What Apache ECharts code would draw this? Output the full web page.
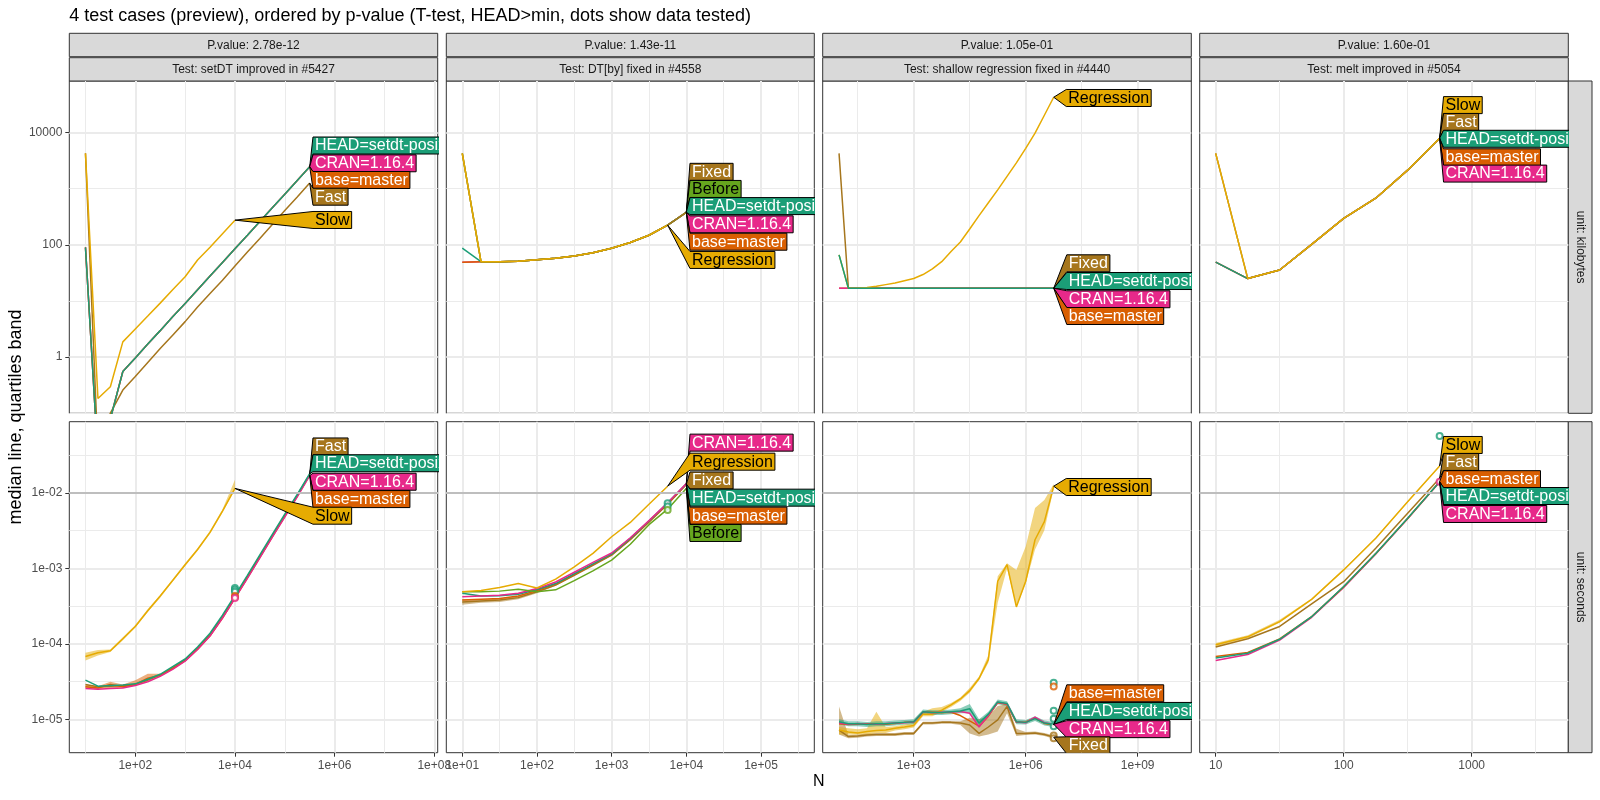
<!DOCTYPE html>
<html><head><meta charset="utf-8">
<script src="https://cdn.jsdelivr.net/npm/echarts@6/dist/echarts.min.js"></script>
<style>html,body{margin:0;padding:0;background:#fff}#c{width:1600px;height:800px}</style>
</head><body><div id="c"></div>
<script>
// ---------------- DATA ----------------
const TITLE = '4 test cases (preview), ordered by p-value (T-test, HEAD>min, dots show data tested)';
const REF_LINE_SECONDS = 0.01;

// Panel 1: setDT improved in #5427
const p1N     = [10, 17.8, 31.6, 56.2, 100, 178, 316, 562, 1000, 1778, 3162, 5623, 10000, 17783, 31623, 56234, 100000, 177828, 316228];
const p1SlowN = [10, 17.8, 31.6, 56.2, 100, 178, 316, 562, 1000, 1778, 3162, 5623, 10000];
const p1kbHEAD = [90, 0.016, 0.079, 0.55, 0.96, 1.7, 2.95, 5.2, 9.0, 15.8, 27.7, 48.5, 85, 148, 261, 457, 800, 1400, 2455];
const p1kbCRAN = [90, 0.016, 0.079, 0.55, 0.96, 1.7, 2.95, 5.2, 9.0, 15.8, 27.7, 48.5, 85, 148, 261, 457, 800, 1400, 2455];
const p1kbBase = [90, 0.016, 0.079, 0.55, 0.96, 1.7, 2.95, 5.2, 9.0, 15.8, 27.7, 48.5, 85, 148, 261, 457, 800, 1400, 2455];
const p1kbFast = [4270, 0.02, 0.1, 0.257, 0.447, 0.794, 1.41, 2.45, 4.27, 7.76, 13.5, 23.4, 41.7, 74.1, 129, 229, 407, 708, 1259];
const p1kbSlow = [4270, 0.182, 0.295, 1.86, 3.16, 5.37, 9.12, 15.8, 26.9, 53.7, 90.2, 158, 275];
const p1sHEAD = [3.3e-5, 2.75e-5, 2.8e-5, 2.85e-5, 2.95e-5, 3.4e-5, 3.95e-5, 5.0e-5, 6.3e-5, 9.1e-5, 1.38e-4, 2.4e-4, 4.4e-4, 8.1e-4, 1.51e-3, 2.82e-3, 5.25e-3, 9.55e-3, 1.8e-2];
const p1sCRAN = [2.55e-5, 2.5e-5, 2.55e-5, 2.6e-5, 2.8e-5, 3.15e-5, 3.7e-5, 4.6e-5, 5.9e-5, 8.4e-5, 1.27e-4, 2.2e-4, 4.0e-4, 7.4e-4, 1.38e-3, 2.6e-3, 4.8e-3, 8.9e-3, 1.7e-2];
const p1sBase = [2.7e-5, 2.6e-5, 2.9e-5, 2.7e-5, 2.9e-5, 3.5e-5, 3.85e-5, 4.7e-5, 6.0e-5, 8.5e-5, 1.28e-4, 2.2e-4, 4.05e-4, 7.5e-4, 1.4e-3, 2.62e-3, 4.9e-3, 9.0e-3, 1.72e-2];
const p1sBaseLo = [2.6e-5, 2.5e-5, 2.6e-5, 2.6e-5, 2.8e-5, 3.2e-5, 3.7e-5, 4.6e-5, 5.9e-5, 8.3e-5, 1.25e-4, 2.15e-4, 3.95e-4, 7.3e-4, 1.37e-3, 2.57e-3, 4.8e-3, 8.8e-3, 1.68e-2];
const p1sBaseHi = [2.9e-5, 2.75e-5, 3.15e-5, 2.9e-5, 3.3e-5, 4.0e-5, 4.0e-5, 4.8e-5, 6.1e-5, 8.7e-5, 1.31e-4, 2.25e-4, 4.15e-4, 7.7e-4, 1.43e-3, 2.67e-3, 5.0e-3, 9.2e-3, 1.76e-2];
const p1sFast = [2.9e-5, 2.7e-5, 2.75e-5, 2.8e-5, 2.9e-5, 3.3e-5, 3.85e-5, 4.8e-5, 6.1e-5, 8.8e-5, 1.33e-4, 2.3e-4, 4.2e-4, 7.8e-4, 1.45e-3, 2.72e-3, 5.05e-3, 9.3e-3, 1.77e-2];
const p1sSlow   = [6.8e-5, 7.6e-5, 8.1e-5, 1.17e-4, 1.7e-4, 2.75e-4, 4.3e-4, 6.9e-4, 1.12e-3, 1.78e-3, 3.0e-3, 5.75e-3, 1.15e-2];
const p1sSlowLo = [6.0e-5, 7.0e-5, 7.8e-5, 1.12e-4, 1.65e-4, 2.65e-4, 4.1e-4, 6.7e-4, 1.08e-3, 1.72e-3, 2.9e-3, 5.5e-3, 1.1e-2];
const p1sSlowHi = [7.6e-5, 8.3e-5, 8.4e-5, 1.22e-4, 1.78e-4, 2.9e-4, 4.45e-4, 7.2e-4, 1.17e-3, 1.85e-3, 3.15e-3, 6.1e-3, 1.5e-2];
const p1DotN = 10000;
const p1sDotsHEAD = [5.5e-4, 5.2e-4, 4.9e-4];
const p1sDotsBase = [4.3e-4, 4.15e-4];
const p1sDotsCRAN = [4.05e-4];

// Panel 2: DT[by] fixed in #4558
const p2N    = [10, 17.8, 31.6, 56.2, 100, 178, 316, 562, 1000, 1778, 3162, 5623, 10000];
const p2RegN = [10, 17.8, 31.6, 56.2, 100, 178, 316, 562, 1000, 1778, 3162, 5623];
const p2kbHEAD   = [87, 50, 50, 51, 54, 57.5, 63, 72, 87, 110, 148, 224, 380];
const p2kbCRAN   = [49, 50, 50, 51, 54, 57.5, 63, 72, 87, 110, 148, 224, 380];
const p2kbBase   = [49, 50, 50, 51, 54, 57.5, 63, 72, 87, 110, 148, 224, 380];
const p2kbFixed  = [4270, 50, 50, 51, 54, 57.5, 63, 72, 87, 110, 148, 224, 380];
const p2kbBefore = [4270, 50, 50, 51, 54, 57.5, 63, 72, 87, 110, 148, 224, 380];
const p2kbReg    = [4270, 50, 50, 51, 54, 57.5, 63, 72, 87, 110, 148, 224];
const p2sHEAD   = [4.7e-4, 4.3e-4, 4.35e-4, 4.55e-4, 5.25e-4, 6.3e-4, 8.5e-4, 1.15e-3, 1.55e-3, 2.5e-3, 4.25e-3, 7.4e-3, 1.32e-2];
const p2sCRAN   = [4.2e-4, 4.3e-4, 4.4e-4, 4.7e-4, 5.4e-4, 6.6e-4, 8.9e-4, 1.2e-3, 1.6e-3, 2.55e-3, 4.3e-3, 7.4e-3, 1.33e-2];
const p2sBase   = [3.8e-4, 3.9e-4, 4.0e-4, 4.3e-4, 5.1e-4, 6.2e-4, 8.3e-4, 1.13e-3, 1.52e-3, 2.45e-3, 4.2e-3, 7.2e-3, 1.3e-2];
const p2sFixed  = [3.6e-4, 3.7e-4, 3.8e-4, 4.1e-4, 4.9e-4, 6.0e-4, 8.1e-4, 1.1e-3, 1.5e-3, 2.4e-3, 4.1e-3, 7.1e-3, 1.3e-2];
const p2sFixedLo = [3.3e-4, 3.5e-4, 3.6e-4, 3.9e-4, 4.7e-4, 5.9e-4, 8.0e-4, 1.09e-3, 1.48e-3, 2.37e-3, 4.05e-3, 7.0e-3, 1.28e-2];
const p2sFixedHi = [3.9e-4, 3.9e-4, 4.0e-4, 4.3e-4, 5.1e-4, 6.1e-4, 8.2e-4, 1.11e-3, 1.52e-3, 2.43e-3, 4.15e-3, 7.2e-3, 1.32e-2];
const p2sBefore = [4.9e-4, 4.9e-4, 5.0e-4, 5.3e-4, 4.9e-4, 5.2e-4, 6.9e-4, 9.3e-4, 1.29e-3, 2.09e-3, 3.8e-3, 6.1e-3, 1.15e-2];
const p2sReg    = [4.9e-4, 5.1e-4, 5.6e-4, 6.3e-4, 5.5e-4, 7.2e-4, 1.05e-3, 1.58e-3, 2.63e-3, 4.07e-3, 7.08e-3, 1.23e-2];
const p2DotN = 5623;
const p2sDotsHEAD = [7.3e-3, 6.6e-3];
const p2sDotsBefore = [5.96e-3];

// Panel 3: shallow regression fixed in #4440
const p3N = [10, 17.8, 31.6, 56.2, 100, 178, 316, 562, 1000, 1778, 3162, 5623, 10000, 17783, 31623, 56234, 100000, 177828, 316228, 562341, 1000000, 1778279, 3162278, 5623413];
const p3kbHEAD  = [66, 16.8, 16.8, 16.8, 16.8, 16.8, 16.8, 16.8, 16.8, 16.8, 16.8, 16.8, 16.8, 16.8, 16.8, 16.8, 16.8, 16.8, 16.8, 16.8, 16.8, 16.8, 16.8, 16.8];
const p3kbCRAN  = [16.8, 16.8, 16.8, 16.8, 16.8, 16.8, 16.8, 16.8, 16.8, 16.8, 16.8, 16.8, 16.8, 16.8, 16.8, 16.8, 16.8, 16.8, 16.8, 16.8, 16.8, 16.8, 16.8, 16.8];
const p3kbBase  = [16.8, 16.8, 16.8, 16.8, 16.8, 16.8, 16.8, 16.8, 16.8, 16.8, 16.8, 16.8, 16.8, 16.8, 16.8, 16.8, 16.8, 16.8, 16.8, 16.8, 16.8, 16.8, 16.8, 16.8];
const p3kbFixed = [4270, 16.8, 16.8, 16.8, 16.8, 16.8, 16.8, 16.8, 16.8, 16.8, 16.8, 16.8, 16.8, 16.8, 16.8, 16.8, 16.8, 16.8, 16.8, 16.8, 16.8, 16.8, 16.8, 16.8];
const p3kbReg   = [66, 16.8, 16.8, 17.4, 18.2, 19.5, 20.9, 22.9, 25.1, 29.5, 37.2, 50, 75.9, 112, 191, 331, 562, 955, 1660, 2880, 5250, 9770, 20400, 42700];
const p3sHEAD   = [9.3e-6, 8.7e-6, 8.7e-6, 8.5e-6, 8.7e-6, 8.7e-6, 8.9e-6, 9.1e-6, 9.3e-6, 1.26e-5, 1.23e-5, 1.23e-5, 1.26e-5, 1.29e-5, 1.38e-5, 8.9e-6, 1.17e-5, 1.7e-5, 1.62e-5, 9.3e-6, 9.1e-6, 1.02e-5, 8.9e-6, 8.5e-6];
const p3sHEADLo = [8.6e-6, 8.1e-6, 8.1e-6, 7.9e-6, 8.1e-6, 8.1e-6, 8.3e-6, 8.5e-6, 8.6e-6, 1.17e-5, 1.14e-5, 1.14e-5, 1.17e-5, 1.2e-5, 1.2e-5, 8.3e-6, 1.08e-5, 1.58e-5, 1.5e-5, 8.6e-6, 8.5e-6, 9.5e-6, 8.3e-6, 7.9e-6];
const p3sHEADHi = [1.0e-5, 9.4e-6, 9.4e-6, 9.2e-6, 9.4e-6, 9.4e-6, 9.6e-6, 9.8e-6, 1.0e-5, 1.35e-5, 1.32e-5, 1.32e-5, 1.35e-5, 1.4e-5, 1.6e-5, 1.0e-5, 1.26e-5, 1.83e-5, 1.74e-5, 1.0e-5, 9.8e-6, 1.1e-5, 9.6e-6, 9.2e-6];
const p3sCRAN  = [8.9e-6, 8.6e-6, 8.8e-6, 8.6e-6, 8.6e-6, 8.8e-6, 8.9e-6, 9.0e-6, 9.2e-6, 1.25e-5, 1.22e-5, 1.24e-5, 1.25e-5, 1.27e-5, 1.2e-5, 7.9e-6, 1.12e-5, 1.68e-5, 1.6e-5, 9.2e-6, 9.0e-6, 1.07e-5, 9.0e-6, 8.6e-6];
const p3sBase  = [8.7e-6, 8.5e-6, 8.6e-6, 8.7e-6, 8.7e-6, 8.6e-6, 8.8e-6, 9.1e-6, 9.2e-6, 1.24e-5, 1.24e-5, 1.22e-5, 1.24e-5, 1.12e-5, 9.5e-6, 8.1e-6, 1.1e-5, 1.66e-5, 1.58e-5, 9.1e-6, 9.2e-6, 1.04e-5, 8.8e-6, 8.4e-6];
const p3sFixed   = [7.2e-6, 5.9e-6, 6.0e-6, 6.2e-6, 6.3e-6, 6.3e-6, 6.3e-6, 6.5e-6, 6.5e-6, 8.9e-6, 8.9e-6, 9.1e-6, 9.1e-6, 8.9e-6, 8.4e-6, 6.5e-6, 7.9e-6, 9.8e-6, 1.48e-5, 6.5e-6, 6.5e-6, 6.6e-6, 6.3e-6, 5.8e-6];
const p3sFixedLo = [6.3e-6, 5.6e-6, 5.7e-6, 5.9e-6, 6.0e-6, 6.0e-6, 6.0e-6, 6.2e-6, 6.2e-6, 8.5e-6, 8.5e-6, 8.7e-6, 8.7e-6, 8.4e-6, 6.5e-6, 5.9e-6, 6.3e-6, 6.9e-6, 1.2e-5, 6.0e-6, 6.2e-6, 6.3e-6, 6.0e-6, 5.5e-6];
const p3sFixedHi = [1.48e-5, 6.2e-6, 6.3e-6, 6.5e-6, 6.6e-6, 6.6e-6, 6.6e-6, 6.8e-6, 6.8e-6, 9.3e-6, 9.3e-6, 9.5e-6, 9.5e-6, 9.4e-6, 1.05e-5, 1.0e-5, 1.1e-5, 1.5e-5, 1.6e-5, 7.5e-6, 6.8e-6, 6.9e-6, 6.6e-6, 6.1e-6];
const p3sReg   = [7.2e-6, 6.8e-6, 6.6e-6, 6.9e-6, 7.1e-6, 7.2e-6, 7.6e-6, 7.9e-6, 8.3e-6, 1.17e-5, 1.17e-5, 1.32e-5, 1.55e-5, 1.86e-5, 2.4e-5, 3.47e-5, 6.17e-5, 6.76e-4, 1.12e-3, 3.09e-4, 6.76e-4, 2.4e-3, 4.17e-3, 1.23e-2];
const p3sRegLo = [6.3e-6, 6.3e-6, 6.3e-6, 6.3e-6, 6.6e-6, 6.6e-6, 7.1e-6, 7.4e-6, 7.8e-6, 1.1e-5, 1.1e-5, 1.25e-5, 1.45e-5, 1.75e-5, 2.25e-5, 3.3e-5, 5.6e-5, 3.5e-4, 1.0e-3, 3.09e-4, 6.3e-4, 1.78e-3, 3.2e-3, 1.15e-2];
const p3sRegHi = [7.9e-6, 7.6e-6, 7.4e-6, 7.6e-6, 1.26e-5, 7.9e-6, 8.1e-6, 8.5e-6, 8.9e-6, 1.26e-5, 1.4e-5, 1.45e-5, 1.65e-5, 1.95e-5, 2.6e-5, 3.7e-5, 7.1e-5, 7.9e-4, 1.17e-3, 9.5e-4, 1.95e-3, 6.3e-3, 8.1e-3, 1.32e-2];
const p3DotN = 5623413;
const p3sDotsHEAD = [3.06e-5, 1.3e-5, 1.02e-5, 8.1e-6];
const p3sDotsBase = [2.71e-5];
const p3sDotsFixed = [6.1e-6, 5.6e-6];

// Panel 4: melt improved in #5054
const p4N = [10, 17.8, 31.6, 56.2, 100, 178, 316, 562];
const p4kbHEAD = [49, 25, 35.5, 102, 295, 676, 2140, 7940];
const p4kbCRAN = [49, 25, 35.5, 102, 295, 676, 2140, 7940];
const p4kbBase = [49, 25, 35.5, 102, 295, 676, 2140, 7940];
const p4kbFast = [4270, 25, 35.5, 102, 295, 676, 2140, 7940];
const p4kbSlow = [4270, 25, 35.5, 102, 295, 676, 2140, 7940];
const p4sSlow   = [9.7e-5, 1.24e-4, 1.97e-4, 3.89e-4, 9.55e-4, 2.51e-3, 7.67e-3, 2.28e-2];
const p4sSlowLo = [9.2e-5, 1.19e-4, 1.9e-4, 3.8e-4, 9.3e-4, 2.45e-3, 7.5e-3, 2.25e-2];
const p4sSlowHi = [1.03e-4, 1.3e-4, 2.08e-4, 4.0e-4, 9.8e-4, 2.57e-3, 7.85e-3, 2.32e-2];
const p4sFast = [9.1e-5, 1.17e-4, 1.7e-4, 3.39e-4, 6.67e-4, 1.85e-3, 5.37e-3, 1.57e-2];
const p4sHEAD = [6.5e-5, 7.5e-5, 1.15e-4, 2.29e-4, 5.75e-4, 1.58e-3, 4.62e-3, 1.41e-2];
const p4sCRAN = [6.0e-5, 7.2e-5, 1.12e-4, 2.25e-4, 5.6e-4, 1.55e-3, 4.55e-3, 1.4e-2];
const p4sBase = [6.8e-5, 7.7e-5, 1.16e-4, 2.3e-4, 5.7e-4, 1.57e-3, 4.6e-3, 1.41e-2];
const p4DotN = 562;
const p4sDotsHEAD = [5.7e-2];
const p4sDotsCRAN = [1.41e-2];

// Tick positions (log10 exponents of the values shown)
const xMajor = [[2, 4, 6, 8], [1, 2, 3, 4, 5], [3, 6, 9], [1, 2, 3]];
const xMinor = [[1, 3, 5, 7], [1.5, 2.5, 3.5, 4.5, 5.5], [1.5, 4.5, 7.5], [1.5, 2.5, 3.5]];
const yMajor = [[0, 2, 4], [-5, -4, -3, -2]];
const yMinor = [[-1, 1, 3], [-4.5, -3.5, -2.5, -1.5]];
const pvals = ['2.78e-12', '1.43e-11', '1.05e-01', '1.60e-01'];
const tests = ['setDT improved in #5427', 'DT[by] fixed in #4558', 'shallow regression fixed in #4440', 'melt improved in #5054'];
const units = ['unit: kilobytes', 'unit: seconds'];

// ------------- label layout (direct labels: box position in data units) -------------
const LBL = {
  p1kb: [['HEAD=setdt-posixlt', 368000, 5890], ['CRAN=1.16.4', 368000, 2840], ['base=master', 368000, 1430], ['Fast', 368000, 720], ['Slow', 368000, 277]],
  p1s:  [['Fast', 368000, 0.0414], ['HEAD=setdt-posixlt', 368000, 0.0248], ['CRAN=1.16.4', 368000, 0.0141], ['base=master', 368000, 0.0083], ['Slow', 368000, 0.0050]],
  p2kb: [['Fixed', 11200, 2000], ['Before', 11200, 990], ['HEAD=setdt-posixlt', 11200, 490], ['CRAN=1.16.4', 11200, 232], ['base=master', 11200, 113.5], ['Regression', 11200, 53.7]],
  p2s:  [['CRAN=1.16.4', 11200, 0.0465], ['Regression', 11200, 0.026], ['Fixed', 11200, 0.01466], ['HEAD=setdt-posixlt', 11200, 0.00867], ['base=master', 11200, 0.00501], ['Before', 11200, 0.00295]],
  p3kb: [['Regression', 1.22e7, 41400], ['Fixed', 1.26e7, 46.8], ['HEAD=setdt-posixlt', 1.26e7, 22.6], ['CRAN=1.16.4', 1.26e7, 10.7], ['base=master', 1.26e7, 5.38]],
  p3s:  [['Regression', 1.22e7, 0.0120], ['base=master', 1.26e7, 2.21e-5], ['HEAD=setdt-posixlt', 1.26e7, 1.29e-5], ['CRAN=1.16.4', 1.26e7, 7.4e-6], ['Fixed', 1.26e7, 4.52e-6]],
  p4kb: [['Slow', 603, 30900], ['Fast', 603, 15500], ['HEAD=setdt-posixlt', 603, 7760], ['base=master', 603, 3630], ['CRAN=1.16.4', 603, 1860]],
  p4s:  [['Slow', 603, 0.0433], ['Fast', 603, 0.0258], ['base=master', 603, 0.01525], ['HEAD=setdt-posixlt', 603, 0.00912], ['CRAN=1.16.4', 603, 0.00527]]
};

// ---------------- styling ----------------
const COLORS = {'HEAD=setdt-posixlt':'#1B9E77','CRAN=1.16.4':'#E7298A','base=master':'#D95F02','Fast':'#A6761D','Slow':'#E6AB02','Fixed':'#A6761D','Before':'#66A61E','Regression':'#E6AB02'};
const TEXTCOL = {'HEAD=setdt-posixlt':'#ffffff','CRAN=1.16.4':'#ffffff','base=master':'#ffffff','Fast':'#ffffff','Slow':'#000000','Fixed':'#ffffff','Before':'#000000','Regression':'#000000'};
const FONT = '"Liberation Sans", Arial, Helvetica, sans-serif';
const colLeft = [69.3, 446.3, 822.7, 1199.7], colW = [368.4, 368, 368.6, 368.6];
const rowTop = [81, 421.7], rowH = [332.3, 331];
const xRange = [[0.6755, 8.069], [0.786, 5.714], [0.562, 10.436], [0.875, 3.755]];
const yRange = [[-1.004, 4.92], [-5.443, -1.055]];

// ---------------- panel assembly ----------------
const PANELS = [
  { kb: { lines: [['CRAN=1.16.4', p1N, p1kbCRAN], ['base=master', p1N, p1kbBase], ['Fast', p1N, p1kbFast], ['HEAD=setdt-posixlt', p1N, p1kbHEAD], ['Slow', p1SlowN, p1kbSlow]], bands: [], dots: [], labels: LBL.p1kb },
    s:  { lines: [['Fast', p1N, p1sFast], ['base=master', p1N, p1sBase], ['CRAN=1.16.4', p1N, p1sCRAN], ['HEAD=setdt-posixlt', p1N, p1sHEAD], ['Slow', p1SlowN, p1sSlow]],
          bands: [['Slow', p1SlowN, p1sSlowLo, p1sSlowHi], ['base=master', p1N, p1sBaseLo, p1sBaseHi]],
          dots: [['HEAD=setdt-posixlt', p1DotN, p1sDotsHEAD], ['base=master', p1DotN, p1sDotsBase], ['CRAN=1.16.4', p1DotN, p1sDotsCRAN]], labels: LBL.p1s } },
  { kb: { lines: [['CRAN=1.16.4', p2N, p2kbCRAN], ['base=master', p2N, p2kbBase], ['HEAD=setdt-posixlt', p2N, p2kbHEAD], ['Before', p2N, p2kbBefore], ['Fixed', p2N, p2kbFixed], ['Regression', p2RegN, p2kbReg]], bands: [], dots: [], labels: LBL.p2kb },
    s:  { lines: [['Fixed', p2N, p2sFixed], ['base=master', p2N, p2sBase], ['HEAD=setdt-posixlt', p2N, p2sHEAD], ['CRAN=1.16.4', p2N, p2sCRAN], ['Before', p2N, p2sBefore], ['Regression', p2RegN, p2sReg]],
          bands: [['Fixed', p2N, p2sFixedLo, p2sFixedHi]], dots: [['HEAD=setdt-posixlt', p2DotN, p2sDotsHEAD], ['Before', p2DotN, p2sDotsBefore]], labels: LBL.p2s } },
  { kb: { lines: [['base=master', p3N, p3kbBase], ['CRAN=1.16.4', p3N, p3kbCRAN], ['Fixed', p3N, p3kbFixed], ['Regression', p3N, p3kbReg], ['HEAD=setdt-posixlt', p3N, p3kbHEAD]], bands: [], dots: [], labels: LBL.p3kb },
    s:  { lines: [['Fixed', p3N, p3sFixed], ['Regression', p3N, p3sReg], ['base=master', p3N, p3sBase], ['CRAN=1.16.4', p3N, p3sCRAN], ['HEAD=setdt-posixlt', p3N, p3sHEAD]],
          bands: [['Fixed', p3N, p3sFixedLo, p3sFixedHi], ['Regression', p3N, p3sRegLo, p3sRegHi], ['HEAD=setdt-posixlt', p3N, p3sHEADLo, p3sHEADHi]],
          dots: [['HEAD=setdt-posixlt', p3DotN, p3sDotsHEAD], ['base=master', p3DotN, p3sDotsBase], ['Fixed', p3DotN, p3sDotsFixed]], labels: LBL.p3s } },
  { kb: { lines: [['CRAN=1.16.4', p4N, p4kbCRAN], ['base=master', p4N, p4kbBase], ['HEAD=setdt-posixlt', p4N, p4kbHEAD], ['Fast', p4N, p4kbFast], ['Slow', p4N, p4kbSlow]], bands: [], dots: [], labels: LBL.p4kb },
    s:  { lines: [['CRAN=1.16.4', p4N, p4sCRAN], ['base=master', p4N, p4sBase], ['HEAD=setdt-posixlt', p4N, p4sHEAD], ['Fast', p4N, p4sFast], ['Slow', p4N, p4sSlow]],
          bands: [['Slow', p4N, p4sSlowLo, p4sSlowHi]],
          dots: [['HEAD=setdt-posixlt', p4DotN, p4sDotsHEAD], ['CRAN=1.16.4', p4DotN, p4sDotsCRAN]], labels: LBL.p4s } }
];

const lg = Math.log10;
const measureCtx = document.createElement('canvas').getContext('2d');
function textW(t, size) { measureCtx.font = size + 'px "Liberation Sans", Arial, sans-serif'; return measureCtx.measureText(t).width; }
function sci(v) { const e = Math.round(v); const a = Math.abs(e); return '1e' + (e < 0 ? '-' : '+') + (a < 10 ? '0' : '') + a; }
function plain(v) { return String(Math.round(Math.pow(10, v))); }
const xFmt = [sci, sci, sci, plain];
const yFmt = [plain, sci];

const option = { animation: false, backgroundColor: '#ffffff', grid: [], xAxis: [], yAxis: [], series: [], graphic: [] };

for (let r = 0; r < 2; r++) {
  for (let c = 0; c < 4; c++) {
    const g = r * 4 + c;
    option.grid.push({ left: colLeft[c], top: rowTop[r], width: colW[c], height: rowH[r], show: true, backgroundColor: '#ffffff',
      borderColor: '#333333', borderWidth: 1, containLabel: false, outerBoundsMode: 'none' });
    const labStyle = { color: '#4d4d4d', fontSize: 12, fontFamily: FONT };
    option.xAxis.push({ type: 'value', gridIndex: g, min: xRange[c][0], max: xRange[c][1], position: 'bottom',
      axisLine: { show: false },
      axisTick: { show: r === 1, customValues: xMajor[c], length: 4, lineStyle: { color: '#333333', width: 1 } },
      splitLine: { show: true, lineStyle: { color: '#ebebeb', width: 2 } },
      axisLabel: Object.assign({ show: r === 1, customValues: xMajor[c], formatter: xFmt[c], margin: 6.5 }, labStyle) });
    option.xAxis.push({ type: 'value', gridIndex: g, min: xRange[c][0], max: xRange[c][1],
      axisLine: { show: false }, axisTick: { show: false, customValues: xMinor[c] }, axisLabel: { show: false },
      splitLine: { show: true, lineStyle: { color: '#ebebeb', width: 1 } } });
    option.yAxis.push({ type: 'value', gridIndex: g, min: yRange[r][0], max: yRange[r][1], position: 'left',
      axisLine: { show: false },
      axisTick: { show: c === 0, customValues: yMajor[r], length: 4, lineStyle: { color: '#333333', width: 1 } },
      splitLine: { show: true, lineStyle: { color: '#ebebeb', width: 2 } },
      axisLabel: Object.assign({ show: c === 0, customValues: yMajor[r], formatter: yFmt[r], margin: 7 }, labStyle) });
    option.yAxis.push({ type: 'value', gridIndex: g, min: yRange[r][0], max: yRange[r][1],
      axisLine: { show: false }, axisTick: { show: false, customValues: yMinor[r] }, axisLabel: { show: false },
      splitLine: { show: true, lineStyle: { color: '#ebebeb', width: 1 } } });

    const P = PANELS[c][r === 0 ? 'kb' : 's'];
    const xi = 2 * g, yi = 2 * g;
    // quartile bands (polygon through the axes' scales)
    P.bands.forEach(b => {
      const [name, N, lo, hi] = b;
      const pts = N.map((n, i) => [lg(n), lg(lo[i]), lg(hi[i])]);
      option.series.push({ type: 'custom', xAxisIndex: xi, yAxisIndex: yi, clip: true, silent: true, z: 2,
        data: pts, encode: { x: 0, y: [1, 2] },
        renderItem: function (params, api) {
          if (params.dataIndex !== 0) return { type: 'group', children: [] };
          const up = pts.map(p => api.coord([p[0], p[2]]));
          const dn = pts.map(p => api.coord([p[0], p[1]])).reverse();
          return { type: 'polygon', shape: { points: up.concat(dn) }, style: { fill: COLORS[name], opacity: 0.5 } };
        } });
    });
    // median lines
    const ends = {};
    P.lines.forEach((L, li) => {
      const [name, N, v] = L;
      const s = { type: 'line', name: name, xAxisIndex: xi, yAxisIndex: yi, symbol: 'none', showSymbol: false, silent: true, clip: true, z: 3,
        data: N.map((n, i) => [lg(n), lg(v[i])]), lineStyle: { color: COLORS[name], width: 1.5 }, itemStyle: { color: COLORS[name] } };
      if (r === 1 && li === 0) {
        s.markLine = { silent: true, symbol: ['none', 'none'], label: { show: false }, animation: false,
          lineStyle: { color: '#bebebe', width: 2, type: 'solid' }, data: [{ yAxis: lg(REF_LINE_SECONDS) }] };
      }
      option.series.push(s);
      ends[name] = [lg(N[N.length - 1]), lg(v[v.length - 1])];
    });
    // dots (data tested)
    P.dots.forEach(D => {
      const [name, n, vals] = D;
      option.series.push({ type: 'scatter', xAxisIndex: xi, yAxisIndex: yi, symbol: 'emptyCircle', symbolSize: 6, silent: true, z: 4,
        data: vals.map(v => [lg(n), lg(v)]), itemStyle: { color: COLORS[name], borderWidth: 1.2 } });
    });
    // direct labels
    const labs = P.labels.map(l => ({ name: l[0], tx: ends[l[0]][0], ty: ends[l[0]][1], bx: lg(l[1]), by: lg(l[2]) }));
    option.series.push({ type: 'custom', xAxisIndex: xi, yAxisIndex: yi, clip: true, z: 20, silent: true,
      data: labs.map(l => [l.tx, l.ty, l.bx, l.by]),
      renderItem: function (params, api) {
        const l = labs[params.dataIndex];
        const tip = api.coord([api.value(0), api.value(1)]);
        const b = api.coord([api.value(2), api.value(3)]);
        const w = textW(l.name, 16) + 4, h = 17;
        const x0 = b[0], yt = b[1] - h / 2, yb = b[1] + h / 2;
        return { type: 'group', children: [
          { type: 'polygon', shape: { points: [tip, [x0, yt], [x0 + w, yt], [x0 + w, yb], [x0, yb]] },
            style: { fill: COLORS[l.name], stroke: '#000000', lineWidth: 1 } },
          { type: 'text', x: x0 + 2, y: b[1] + 0.5,
            style: { text: l.name, fill: TEXTCOL[l.name], font: '16px ' + FONT, align: 'left', verticalAlign: 'middle' } }
        ] };
      } });
  }
}

// strips, titles
const G = option.graphic;
G.push({ type: 'text', x: 69.3, y: 16.5, style: { text: TITLE, font: '18px ' + FONT, fill: '#000000', align: 'left', verticalAlign: 'middle' } });
for (let c = 0; c < 4; c++) {
  G.push({ type: 'rect', x: colLeft[c], y: 33.3, shape: { x: 0, y: 0, width: colW[c], height: 23.4 }, style: { fill: '#d9d9d9', stroke: '#333333', lineWidth: 1 } });
  G.push({ type: 'text', x: colLeft[c] + colW[c] / 2, y: 45.5, style: { text: 'P.value: ' + pvals[c], font: '12px ' + FONT, fill: '#1a1a1a', align: 'center', verticalAlign: 'middle' } });
  G.push({ type: 'rect', x: colLeft[c], y: 57.7, shape: { x: 0, y: 0, width: colW[c], height: 23.3 }, style: { fill: '#d9d9d9', stroke: '#333333', lineWidth: 1 } });
  G.push({ type: 'text', x: colLeft[c] + colW[c] / 2, y: 69.6, style: { text: 'Test: ' + tests[c], font: '12px ' + FONT, fill: '#1a1a1a', align: 'center', verticalAlign: 'middle' } });
}
for (let r = 0; r < 2; r++) {
  G.push({ type: 'rect', x: 1568.3, y: rowTop[r], shape: { x: 0, y: 0, width: 23.7, height: rowH[r] }, style: { fill: '#d9d9d9', stroke: '#333333', lineWidth: 1 } });
  G.push({ type: 'text', x: 1580.5, y: rowTop[r] + rowH[r] / 2, rotation: -Math.PI / 2, style: { text: units[r], font: '12px ' + FONT, fill: '#1a1a1a', align: 'center', verticalAlign: 'middle' } });
}
G.push({ type: 'text', x: 16, y: 417, rotation: Math.PI / 2, style: { text: 'median line, quartiles band', font: '18px ' + FONT, fill: '#000000', align: 'center', verticalAlign: 'middle' } });
G.push({ type: 'text', x: 818.8, y: 782, style: { text: 'N', font: '16px ' + FONT, fill: '#000000', align: 'center', verticalAlign: 'middle' } });

const chart = echarts.init(document.getElementById('c'), null, { renderer: 'canvas', width: 1600, height: 800 });
chart.setOption(option);
</script></body></html>
